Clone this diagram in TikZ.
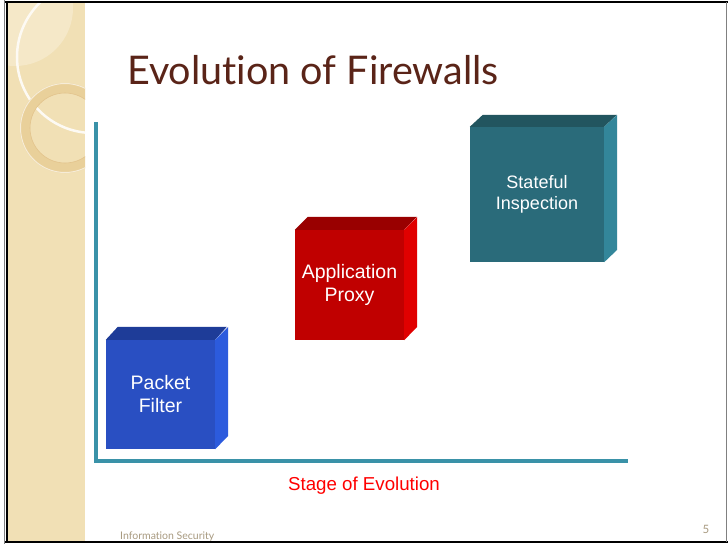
\documentclass[tikz,border=0pt]{standalone}
\usepackage{fontspec}
\setmainfont{Liberation Sans}
\newfontfamily\titlefont[Ligatures=NoCommon]{Lato}
\definecolor{beige}{HTML}{F1E0B5}
\definecolor{beigelight}{HTML}{F5E8C8}
\definecolor{ringc}{HTML}{E9D09A}
\definecolor{axisc}{HTML}{3A92A8}
\definecolor{titlec}{HTML}{5A2418}
\definecolor{footc}{HTML}{A89A80}
\definecolor{bfront}{HTML}{294FC2}
\definecolor{btop}{HTML}{1E3C98}
\definecolor{bside}{HTML}{2C5BDD}
\definecolor{rfront}{HTML}{C00000}
\definecolor{rtop}{HTML}{990000}
\definecolor{rside}{HTML}{E00000}
\definecolor{tfront}{HTML}{2A6B7A}
\definecolor{ttop}{HTML}{22555F}
\definecolor{tside}{HTML}{33869A}
\tikzset{
  front/.style={inner sep=0pt, text=white, align=center, font=\fontsize{19.5}{23}\selectfont},
  axisline/.style={axisc, line width=3.5pt},
}
\begin{document}
\begin{tikzpicture}[x=1pt,y=-1pt]
\useasboundingbox (0,0) rectangle (728,544);
\fill[white] (0,0) rectangle (728,544);
% sidebar
\begin{scope}
\clip (7,3) rectangle (85,541);
\fill[beige] (7,3) rectangle (85,541);
\fill[beigelight] (15,8) circle[radius=58];
\draw[white!85!beige, line width=2.5pt] (93,57) circle[radius=76];
\fill[ringc, even odd rule] (65,128) circle[radius=45] (65,128) circle[radius=35];
\draw[white!60!ringc, line width=1pt] (65,128) circle[radius=44.5];
\draw[ringc!85!brown, line width=0.6pt] (65,128) circle[radius=35];
\end{scope}
% frame
\draw[gray, line width=1.5pt] (4.5,0) -- (4.5,544);
\draw[black, line width=2pt] (6.5,2) -- (6.5,542);
\draw[black, line width=2.5pt] (5,2) -- (728,2);
\draw[black, line width=2.5pt] (5,542) -- (728,542);
\draw[gray, line width=1.5pt] (726.5,2) -- (726.5,542);
% title
\node[anchor=base west, inner sep=0pt, text=titlec, font=\titlefont\fontsize{39.5}{44}\selectfont] (title) at (127,84) {Evolution of Firewalls};
% axes
\coordinate (ytop) at (96,122);
\coordinate (origin) at (96,461);
\coordinate (xend) at (628,461);
\draw[axisline] (ytop) -- (origin |- 0,462.75);
\draw[axisline] (94.25,461) -- (xend);
% boxes
\node[front, fill=bfront, minimum width=109pt, minimum height=109pt] (pf) at (160.5,394.5) {Packet\\Filter};
\fill[btop] (pf.north west) -- ++(12,-13) -- ++(109,0) -- (pf.north east) -- cycle;
\fill[bside] (pf.north east) -- ++(13,-13) -- ++(0,109) -- (pf.south east) -- cycle;
\node[front, fill=rfront, minimum width=109pt, minimum height=110pt] (ap) at (349.5,285) {Application\\Proxy};
\fill[rtop] (ap.north west) -- ++(13,-13) -- ++(109,0) -- (ap.north east) -- cycle;
\fill[rside] (ap.north east) -- ++(13,-13) -- ++(0,110) -- (ap.south east) -- cycle;
\node[front, fill=tfront, minimum width=134pt, minimum height=135pt, font=\fontsize{18}{21}\selectfont] (si) at (537,194.5) {Stateful\\Inspection};
\fill[ttop] (si.north west) -- ++(13,-12) -- ++(134,0) -- (si.north east) -- cycle;
\fill[tside] (si.north east) -- ++(13,-12) -- ++(0,135) -- (si.south east) -- cycle;
% axis label
\node[anchor=base, inner sep=0pt, text=red, font=\fontsize{18.7}{22}\selectfont] (xlabel) at (364,490) {Stage of Evolution};
% footer
\node[anchor=base west, inner sep=0pt, text=footc, font=\titlefont\fontsize{10.5}{12}\selectfont] (foot) at (120,539) {Information Security};
\node[anchor=base, inner sep=0pt, text=footc, font=\titlefont\fontsize{11.5}{12}\selectfont] (pnum) at (706,533) {5};
\end{tikzpicture}
\end{document}
